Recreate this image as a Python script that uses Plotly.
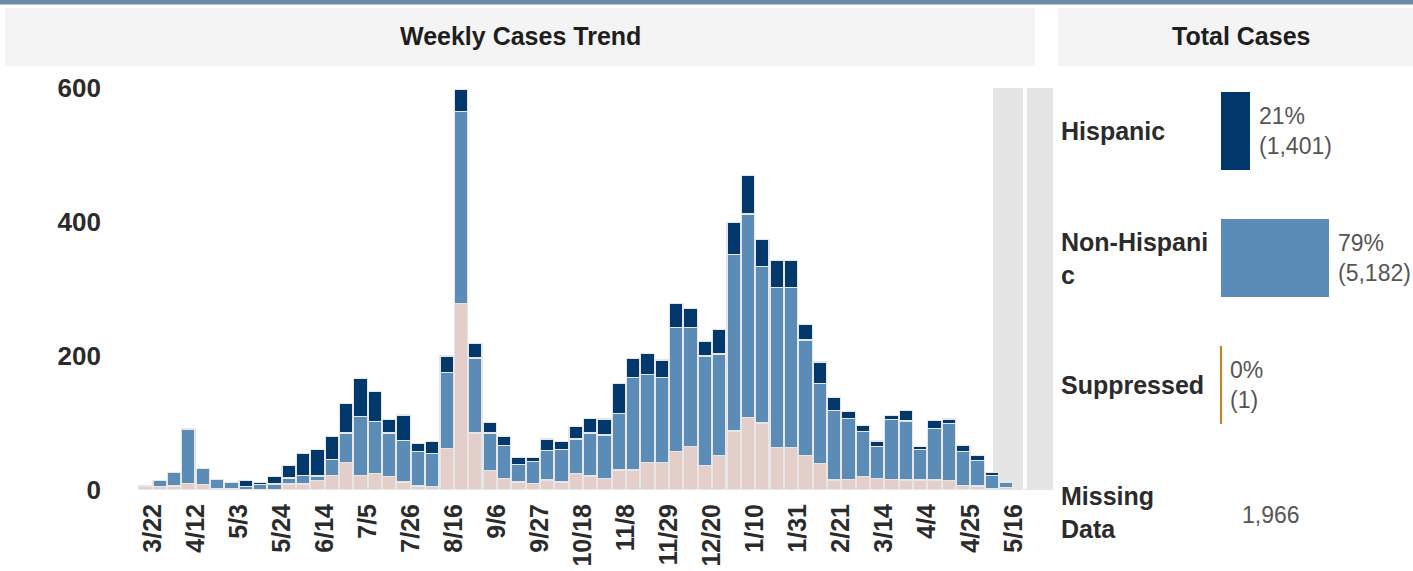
import plotly.graph_objects as go

# ---------------- data ----------------
weeks = ["3/15","3/22","3/29","4/5","4/12","4/19","4/26","5/3","5/10","5/17","5/24","5/31",
         "6/7","6/14","6/21","6/28","7/5","7/12","7/19","7/26","8/2","8/9","8/16","8/23","8/30",
         "9/6","9/13","9/20","9/27","10/4","10/11","10/18","10/25","11/1","11/8","11/15","11/22",
         "11/29","12/6","12/13","12/20","12/27","1/3","1/10","1/17","1/24","1/31","2/7","2/14",
         "2/21","2/28","3/7","3/14","3/21","3/28","4/4","4/11","4/18","4/25","5/2","5/9","5/16"]

missing = [6, 5, 6, 10, 8, 2, 2, 1, 1, 1, 9, 9,
           14, 22, 41, 22, 25, 20, 12, 6, 5, 62, 278, 85, 29,
           17, 12, 10, 15, 12, 25, 21, 17, 30, 30, 41, 41,
           57, 65, 36, 52, 88, 108, 100, 64, 64, 51, 39, 15,
           16, 20, 17, 16, 15, 15, 15, 14, 7, 6, 2, 4, 0]
non_hispanic = [0, 9, 20, 81, 24, 14, 9, 4, 7, 8, 9, 13,
                7, 23, 44, 88, 77, 65, 62, 51, 49, 113, 287, 112, 56,
                50, 26, 32, 44, 48, 51, 64, 65, 84, 138, 131, 127,
                186, 178, 164, 151, 264, 304, 233, 238, 238, 173, 120, 104,
                91, 67, 48, 89, 88, 45, 77, 85, 50, 38, 20, 7, 0]
hispanic = [0, 0, 0, 0, 0, 0, 0, 9, 3, 11, 18, 33,
            39, 35, 44, 57, 45, 20, 38, 13, 18, 25, 33, 22, 16,
            13, 10, 7, 17, 12, 19, 22, 24, 45, 28, 32, 26,
            35, 28, 22, 37, 47, 58, 41, 41, 41, 23, 32, 19,
            10, 9, 8, 6, 16, 5, 12, 7, 9, 7, 4, 0, 0]

y_ticks = [0, 200, 400, 600]
tick_labels = weeks[1::3]

total_categories = ["Hispanic", "Non-Hispani<br>c", "Suppressed", "Missing<br>Data"]
total_values = [1401, 5182, 1, None]
total_pct = ["21%", "79%", "0%", None]
missing_total = 1966

# ---------------- styles ----------------
W, H = 1413, 571
DARK = "#02386c"
LIGHT = "#5b8cb8"
PINK = "#e3ceca"
GOLD = "#b8892c"
FONT = "Liberation Sans, Arial, sans-serif"
TXT = "#2b2b2b"
GREYTXT = "#555555"

def px(x):
    return x / W

def py(y):
    return 1 - y / H

c0, s = 145.3, 14.35          # first bar centre (px) and week spacing (px)
xa, xb = 130.0, 1035.0
xr0 = (xa - c0) / s
xr1 = (xb - c0) / s

x_idx = list(range(len(weeks)))
# ticks sit at the start of each week (bars span the week)
tick_pos = [i - 0.5 for i in x_idx[1::3]]

fig = go.Figure()
bar_line = dict(color="#e6e6e6", width=1.2)
for name, vals, col in [("Missing Data", missing, PINK),
                        ("Non-Hispanic", non_hispanic, LIGHT),
                        ("Hispanic", hispanic, DARK)]:
    fig.add_trace(go.Bar(x=x_idx, y=vals, name=name, marker=dict(color=col, line=bar_line),
                         xaxis="x", yaxis="y", customdata=weeks,
                         hovertemplate="%{customdata}: %{y}<extra>" + name + "</extra>"))

# Total cases bars
BAR_W = 0.614
fig.add_trace(go.Bar(
    y=total_categories, x=total_values, orientation="h", width=BAR_W,
    marker=dict(color=[DARK, LIGHT, GOLD, "rgba(0,0,0,0)"], line=dict(width=0)),
    xaxis="x2", yaxis="y2", showlegend=False, hoverinfo="x+y"))

# right-panel x scale: 108 px for the Non-Hispanic total, bars starting at px 1221
k = 108 / 5182
x2_lo, x2_hi = 1214.0, 1400.0

shapes = [
    # top band
    dict(type="rect", xref="paper", yref="paper", x0=0, x1=1, y0=py(4.5), y1=1,
         fillcolor="#6e8aab", line_width=0, layer="below"),
    # header boxes
    dict(type="rect", xref="paper", yref="paper", x0=px(5), x1=px(1035), y0=py(66), y1=py(8),
         fillcolor="#f4f4f4", line_width=0, layer="below"),
    dict(type="rect", xref="paper", yref="paper", x0=px(1058), x1=1, y0=py(66), y1=py(8),
         fillcolor="#f4f4f4", line_width=0, layer="below"),
    # incomplete-weeks shading
    dict(type="rect", xref="x", yref="paper", x0=(993 - c0) / s, x1=(1023 - c0) / s,
         y0=py(490), y1=py(88), fillcolor="#e5e5e5", line_width=0, layer="below"),
    dict(type="rect", xref="paper", yref="paper", x0=px(1027), x1=px(1053),
         y0=py(490), y1=py(88), fillcolor="#e5e5e5", line_width=0, layer="below"),
    # suppressed (tiny value) drawn as a thin line at the bar base
    dict(type="line", xref="x2", yref="y2", x0=total_values[2], x1=total_values[2],
         y0=2 - BAR_W / 2, y1=2 + BAR_W / 2, line=dict(color=GOLD, width=2.2)),
]

annotations = [
    dict(text="<b>Weekly Cases Trend</b>", xref="paper", yref="paper", x=px(520), y=py(36),
         xanchor="center", yanchor="middle", showarrow=False,
         font=dict(family=FONT, size=25, color="#1e1e1e")),
    dict(text="<b>Total Cases</b>", xref="paper", yref="paper", x=px(1241), y=py(36),
         xanchor="center", yanchor="middle", showarrow=False,
         font=dict(family=FONT, size=25, color="#1e1e1e")),
]
for cat in total_categories:
    annotations.append(dict(text="<b>" + cat + "</b>", xref="paper", yref="y2", x=px(1059), y=cat,
                            xanchor="left", yanchor="middle", align="left", showarrow=False,
                            font=dict(family=FONT, size=25, color=TXT)))
for cat, v, p in zip(total_categories, total_values, total_pct):
    if v is None:
        continue
    annotations.append(dict(text=f"{p}<br>({v:,})", xref="x2", yref="y2", x=v, y=cat,
                            xanchor="left", yanchor="middle", align="left", xshift=7,
                            showarrow=False, font=dict(family=FONT, size=23, color=GREYTXT)))
annotations.append(dict(text=f"{missing_total:,}", xref="paper", yref="y2", x=px(1271),
                        y=total_categories[3], yshift=-3, xanchor="center", yanchor="middle",
                        showarrow=False, font=dict(family=FONT, size=23, color=GREYTXT)))

y2_top, y2_bot = 67.5, 550.0

fig.update_layout(
    width=W, height=H, margin=dict(l=0, r=0, t=0, b=0, pad=0, autoexpand=False),
    paper_bgcolor="white", plot_bgcolor="rgba(0,0,0,0)",
    barmode="stack", bargap=0.06, showlegend=False,
    font=dict(family=FONT, color=TXT),
    xaxis=dict(domain=[px(xa), px(xb)], range=[xr0, xr1], tickmode="array",
               tickvals=tick_pos, ticktext=tick_labels, tickangle=-90,
               tickfont=dict(family=FONT, size=25, color=TXT, weight="bold"),
               showgrid=False, zeroline=False, showline=False, ticks="",
               ticklabelstandoff=8, anchor="y", automargin=False),
    yaxis=dict(domain=[py(490), py(88)], range=[0, 600], tickvals=y_ticks,
               tickfont=dict(family=FONT, size=26, color=TXT, weight="bold"),
               showgrid=False, zeroline=False, showline=False, ticks="",
               ticklabelstandoff=28, anchor="x", automargin=False),
    xaxis2=dict(domain=[px(x2_lo), px(x2_hi)],
                range=[(x2_lo - 1221) / k, (x2_hi - 1221) / k], visible=False,
                anchor="y2", automargin=False),
    yaxis2=dict(domain=[py(y2_bot), py(y2_top)], type="category",
                categoryorder="array", categoryarray=total_categories,
                range=[3 + (y2_bot - 512) / 127, -0.5], visible=False, anchor="x2",
                automargin=False),
    shapes=shapes, annotations=annotations,
)

fig.write_html("out.html", config={"displayModeBar": False},
               post_script="document.body.style.margin='0';"
                           "document.documentElement.style.overflow='hidden';")
